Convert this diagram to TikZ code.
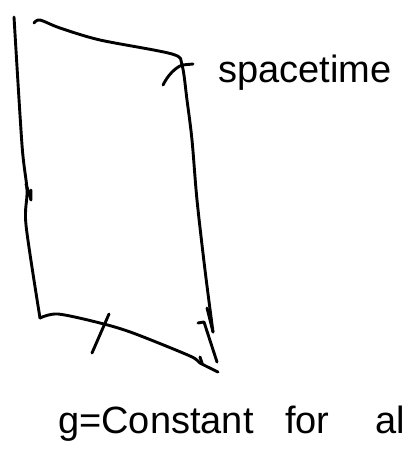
\documentclass[tikz,border=0pt]{standalone}
\usepackage{fontspec}
\setmainfont{Liberation Sans}
\begin{document}
\begin{tikzpicture}[x=1pt,y=-1pt,
    pen/.style={line width=2.9pt, line cap=round, line join=round},
    hand/.style={font=\fontsize{38}{44}\selectfont, inner sep=0pt}
]
\useasboundingbox (0,0) rectangle (405,450);
\clip (0,0) rectangle (405,450);

% left edge, running down
\draw[pen] plot[smooth, tension=0.5] coordinates {(14,17) (22,145) (27,190) (26,225) (40,318)};
\draw[pen] (26,184) -- (31,200) -- (31,190);

% bottom edge
\draw[pen] plot[smooth, tension=0.5] coordinates {(40,318) (58,314) (100,323) (133,333) (190,356) (200,363) (218,372)};
\draw[pen] (92,353) -- (109,314);
\draw[pen] (200,357) -- (202,363);

% top and right edge
\draw[pen] plot[smooth, tension=0.5] coordinates {(34,23) (40,20) (60,28) (100,40) (172,54) (182,65) (187,100) (192,140) (197,200) (205,270) (213,332)};
\draw[pen] (207,308) -- (213,332);
\draw[pen] (198,323) -- (204,322) -- (217,362);

% corner tick
\draw[pen] (163,85) .. controls (168,75) and (175,68) .. (182,65) -- (193,64);

% labels
\node[hand, anchor=base west] (spacetime) at (218,82) {spacetime};
\node[hand, anchor=base west] (gconst) at (58,433) {g=Constant};
\node[hand, anchor=base west] (for) at (285,433) {for};
\node[hand, anchor=base west] (all) at (375,433) {all};
\end{tikzpicture}
\end{document}
